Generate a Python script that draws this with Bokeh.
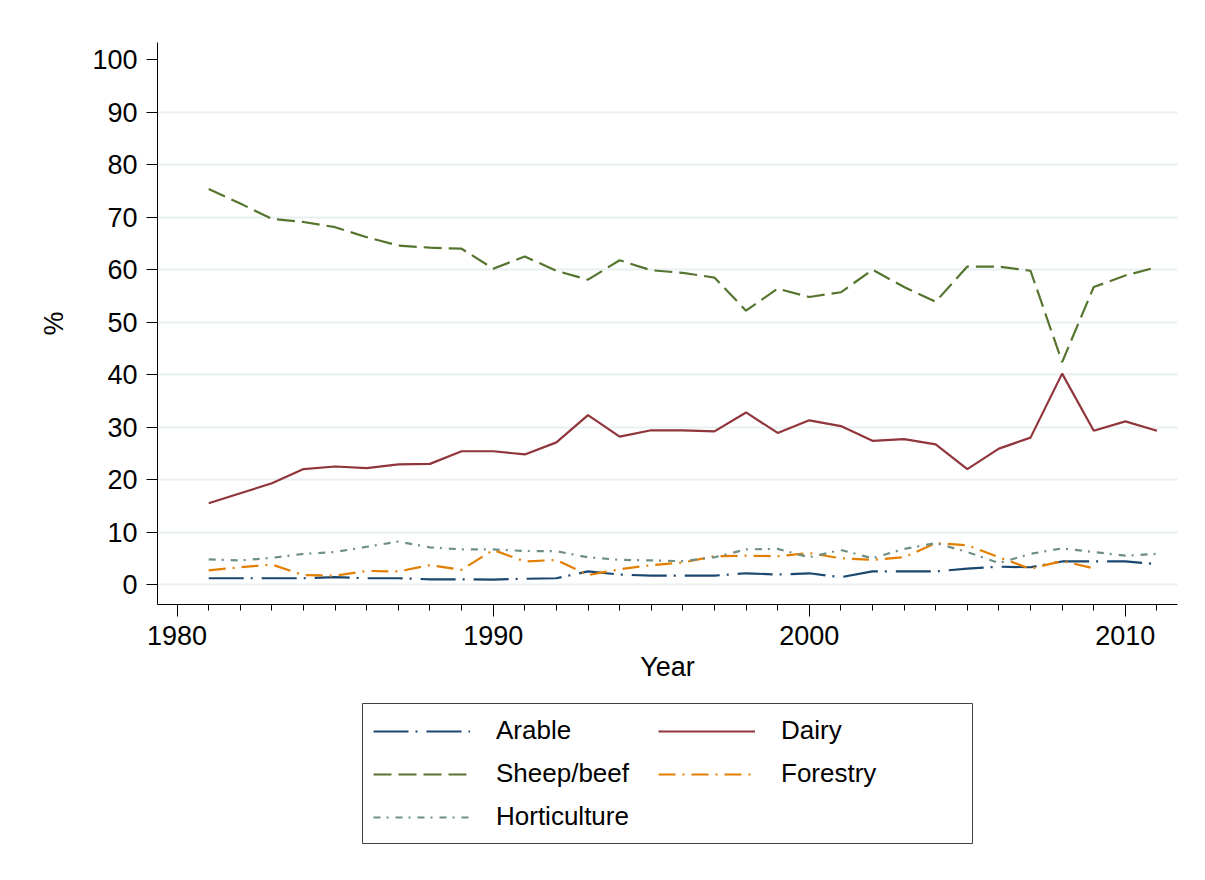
from bokeh.plotting import figure
from bokeh.layouts import column
from bokeh.models import FixedTicker, SingleIntervalTicker, Legend, LegendItem, Range1d
from bokeh.embed import file_html
from bokeh.resources import INLINE

# Share of farm land use by type, 1981-2011 (%)
years = list(range(1981, 2012))

arable = [1.2, 1.2, 1.2, 1.2, 1.4, 1.2, 1.2, 1.0, 1.0, 0.95, 1.1, 1.2, 2.5, 1.9, 1.7,
          1.7, 1.7, 2.15, 1.9, 2.15, 1.4, 2.5, 2.5, 2.5, 3.05, 3.4, 3.3, 4.4, 4.4, 4.4, 3.9]

dairy = [15.5, 17.4, 19.3, 22.0, 22.5, 22.2, 22.9, 23.0, 25.4, 25.4, 24.8, 27.1, 32.3, 28.2, 29.4,
         29.4, 29.2, 32.8, 28.9, 31.3, 30.2, 27.4, 27.7, 26.7, 22.0, 25.9, 28.0, 40.2, 29.3, 31.1, 29.3]

sheep_beef = [75.4, 72.6, 69.7, 69.1, 68.1, 66.2, 64.6, 64.2, 64.0, 60.2, 62.5, 59.8, 58.1, 61.8, 59.9,
              59.4, 58.5, 52.2, 56.4, 54.8, 55.7, 60.0, 56.7, 53.9, 60.6, 60.6, 59.8, 42.4, 56.7, 58.9, 60.5]

forestry = [2.7, 3.3, 3.8, 1.8, 1.7, 2.6, 2.5, 3.7, 2.8, 6.6, 4.4, 4.7, 1.8, 2.9, 3.7,
            4.2, 5.4, 5.5, 5.4, 6.0, 5.0, 4.7, 5.2, 7.9, 7.5, 5.2, 3.0, 4.5, 3.1, float("nan"), float("nan")]

horticulture = [4.8, 4.6, 5.1, 5.85, 6.2, 7.2, 8.2, 7.1, 6.7, 6.7, 6.4, 6.35, 5.2, 4.7, 4.6,
                4.45, 5.2, 6.7, 6.8, 5.2, 6.6, 5.0, 6.8, 7.9, 6.2, 4.1, 5.85, 6.9, 6.2, 5.5, 5.85]

y_ticks = list(range(0, 101, 10))
grid_ticks = list(range(0, 91, 10))

FONT = "Liberation Sans"

fig = figure(frame_width=1020, frame_height=562, output_backend="svg", toolbar_location=None,
             x_range=Range1d(1979.38, 2011.65), y_range=Range1d(-3.8, 103.3),
             min_border_left=157, min_border_right=28, min_border_top=42, min_border_bottom=90)
fig.outline_line_color = None
fig.background_fill_color = "white"
fig.border_fill_color = "white"

series = [
    ("Arable", arable, "#1a476f", "35 7 2 9"),
    ("Dairy", dairy, "#90353b", "solid"),
    ("Sheep/beef", sheep_beef, "#55752f", "18 7"),
    ("Forestry", forestry, "#e37e00", "17 7 2 7"),
    ("Horticulture", horticulture, "#6e8e84", "7 6 2 7"),
]

for name, vals, color, dash in series:
    fig.line(years, vals, line_color=color, line_width=2.2, line_dash=dash)

# x axis: labelled decades, a small tick every year
fig.xaxis.ticker = SingleIntervalTicker(interval=10, num_minor_ticks=10)
fig.xaxis.major_tick_out = 12
fig.xaxis.major_tick_in = 0
fig.xaxis.minor_tick_out = 6
fig.xaxis.minor_tick_in = 0
fig.xaxis.axis_label = "Year"
fig.xaxis.axis_label_standoff = 4

fig.yaxis.ticker = FixedTicker(ticks=y_ticks)
fig.yaxis.major_tick_out = 11
fig.yaxis.major_tick_in = 0
fig.yaxis.minor_tick_out = 0
fig.yaxis.minor_tick_in = 0
fig.yaxis.axis_label = "%"
fig.yaxis.axis_label_standoff = 20
fig.yaxis.major_label_orientation = "horizontal"

for ax in (fig.xaxis, fig.yaxis):
    ax.axis_line_color = "black"
    ax.axis_line_width = 1
    ax.major_tick_line_color = "black"
    ax.minor_tick_line_color = "black"
    ax.major_label_text_font = FONT
    ax.major_label_text_font_size = "27px"
    ax.major_label_text_color = "black"
    ax.major_label_standoff = 9
    ax.axis_label_text_font = FONT
    ax.axis_label_text_font_size = "27px"
    ax.axis_label_text_font_style = "normal"
    ax.axis_label_text_color = "black"

fig.xgrid.grid_line_color = None
fig.ygrid.ticker = FixedTicker(ticks=grid_ticks)
fig.ygrid.grid_line_color = "#e8f0f2"
fig.ygrid.grid_line_width = 2

# key strip under the chart, in page pixels (y grows downward)
key = figure(width=1205, height=186, output_backend="svg", toolbar_location=None,
             x_range=Range1d(157, 1177), y_range=Range1d(880, 694),
             x_axis_type=None, y_axis_type=None,
             min_border=0)
key.outline_line_color = None
key.xgrid.grid_line_color = None
key.ygrid.grid_line_color = None
key.background_fill_color = "white"
key.border_fill_color = "white"

# frame around the key
key.quad(left=[362], right=[972], top=[703], bottom=[843],
         fill_color=None, line_color="#404040", line_width=1)

items = []
for name, vals, color, dash in series:
    r = key.line([float("nan")], [float("nan")], line_color=color, line_width=2.2, line_dash=dash)
    items.append(LegendItem(label=name, renderers=[r]))

legend = Legend(items=items, orientation="horizontal", ncols=2,
                location=(216, 48), margin=0,
                glyph_width=97, glyph_height=20, label_standoff=26,
                label_width=150, label_height=30, spacing=12, padding=0,
                label_text_font=FONT, label_text_font_size="26px", label_text_color="black",
                border_line_color=None, background_fill_color=None)
key.add_layout(legend)

p = column(fig, key, spacing=0)

open("out.html", "w").write(file_html(p, INLINE))
